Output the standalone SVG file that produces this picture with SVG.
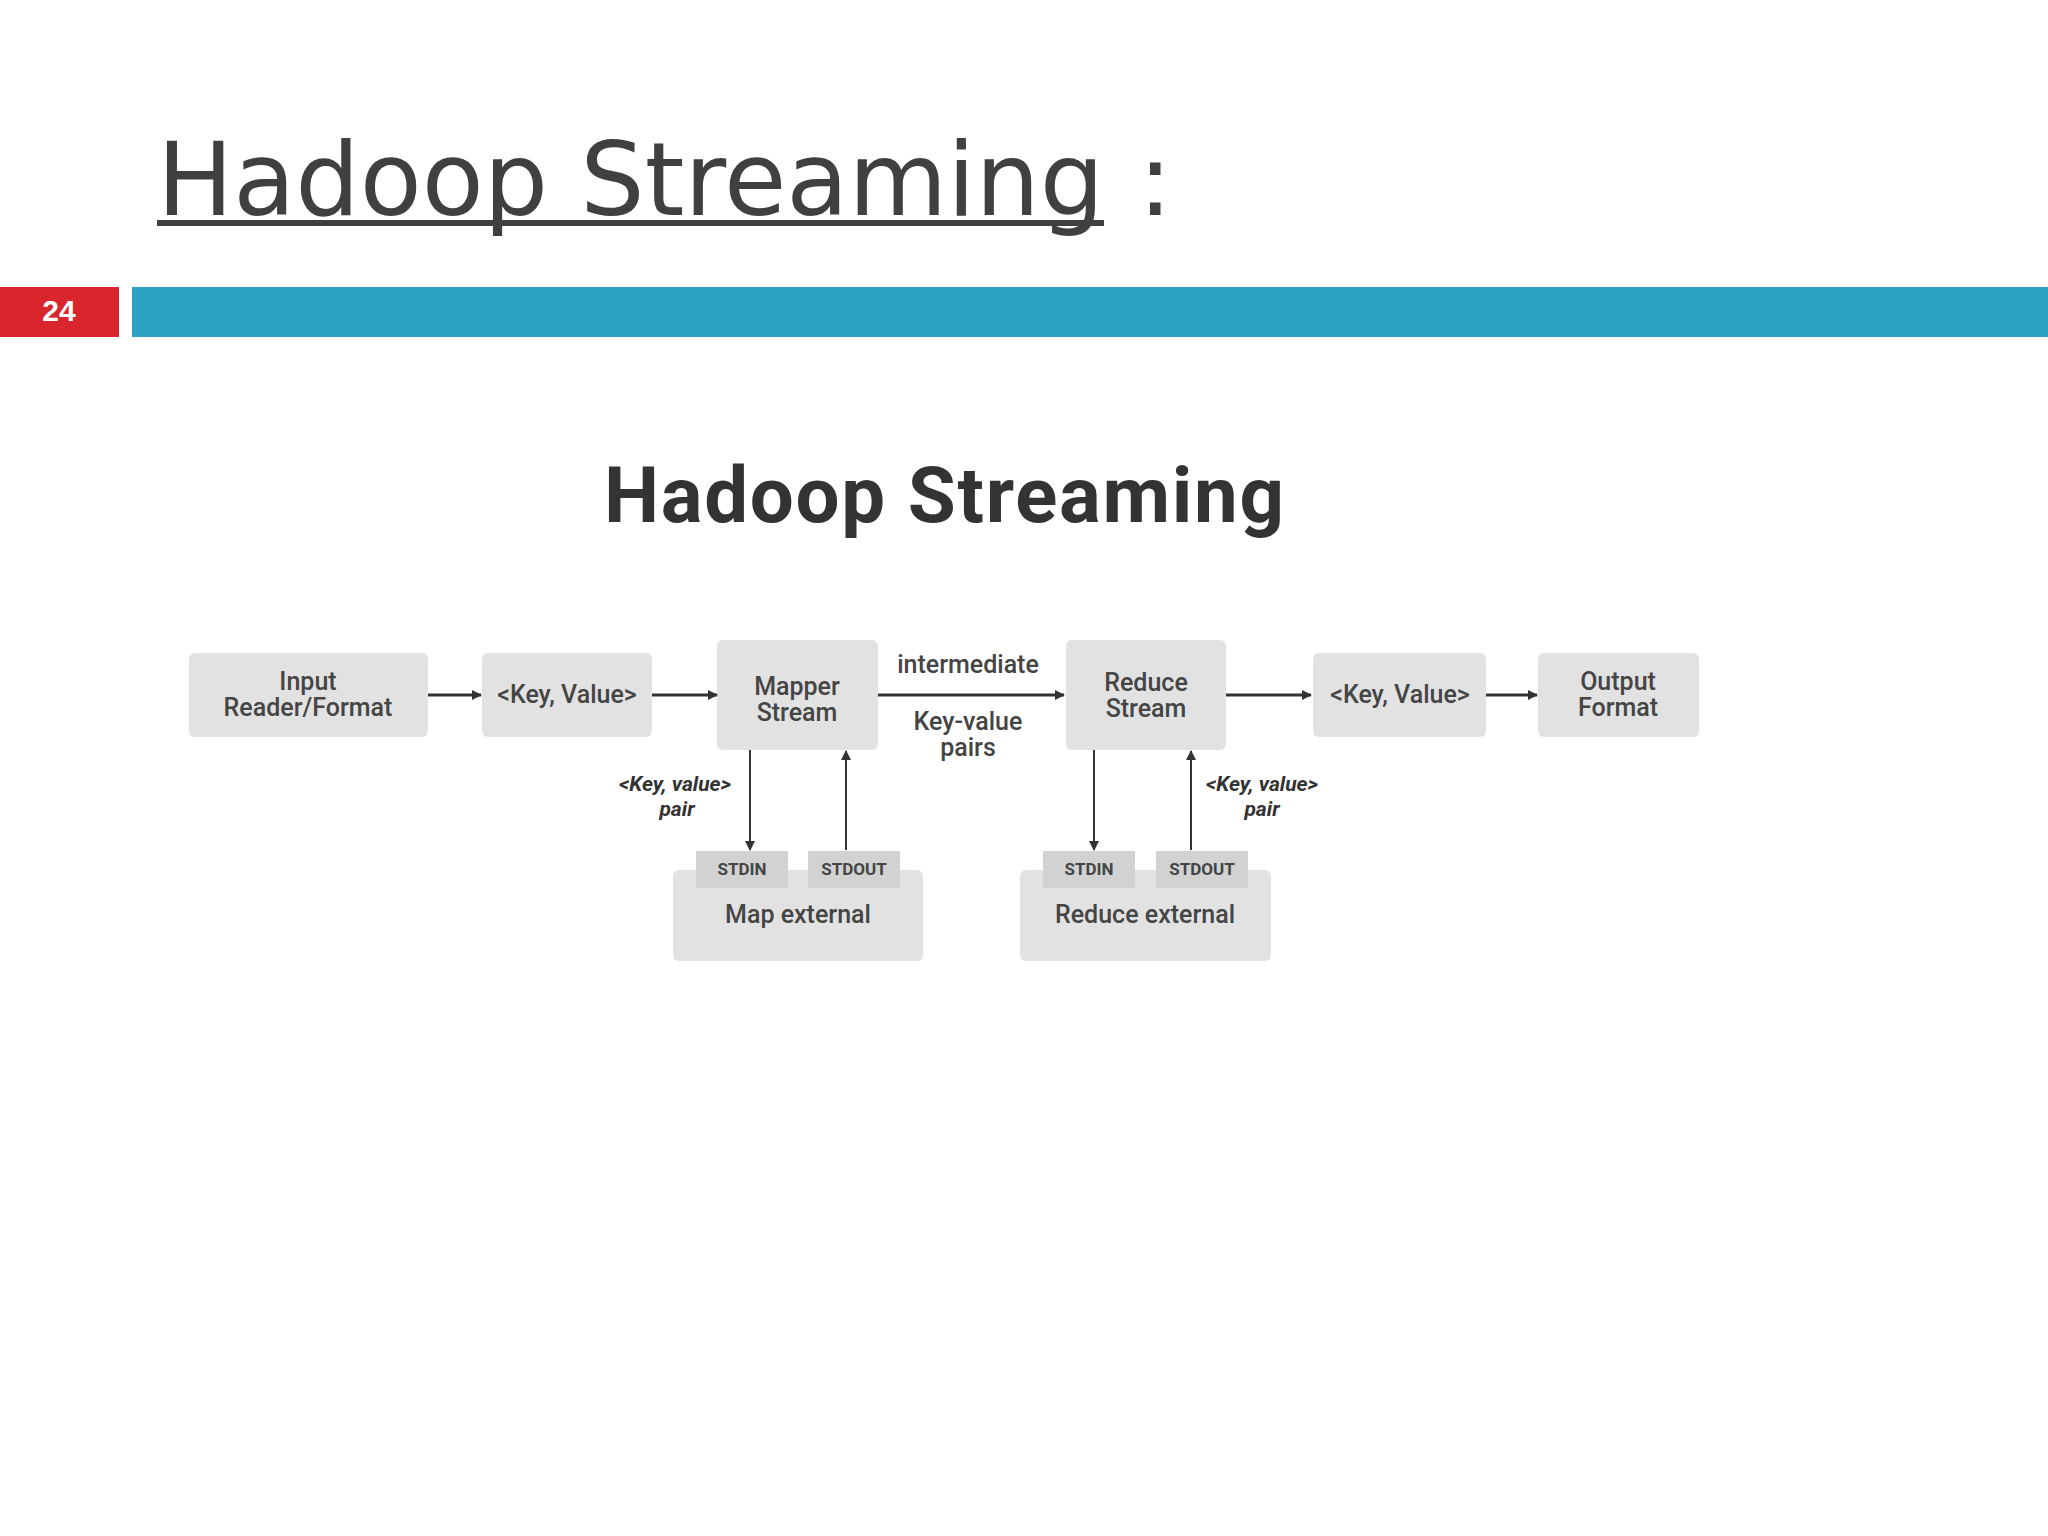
<svg xmlns="http://www.w3.org/2000/svg" width="2048" height="1536" viewBox="0 0 2048 1536">
<defs>
<marker id="ah" markerWidth="10" markerHeight="10" refX="9" refY="5" orient="auto" markerUnits="userSpaceOnUse"><path d="M0,0 L10,5 L0,10 z" fill="#333"/></marker>
<style>
.box{fill:#e2e2e2;rx:6}
.port{fill:#d2d2d2}
.t{font-family:Roboto,"Liberation Sans",sans-serif;font-size:25px;fill:#454545;text-anchor:middle;font-weight:500}
.s{font-family:Roboto,"Liberation Sans",sans-serif;font-size:17px;fill:#454545;text-anchor:middle;font-weight:bold}
.i{font-family:Roboto,"Liberation Sans",sans-serif;font-size:21px;fill:#333;text-anchor:middle;font-weight:bold;font-style:italic}
.c{stroke:#333;stroke-width:3;fill:none;marker-end:url(#ah)}
.v{stroke:#333;stroke-width:2;fill:none;marker-end:url(#ah)}
</style>
</defs>
<rect width="2048" height="1536" fill="#fff"/>
<text x="157" y="215" font-family="'DejaVu Sans',sans-serif" font-size="102" fill="#404040" textLength="947" lengthAdjust="spacingAndGlyphs">Hadoop Streaming</text>
<text x="1138" y="215" font-family="'DejaVu Sans',sans-serif" font-size="102" fill="#404040">:</text>
<rect x="157" y="220" width="947" height="6" fill="#404040"/>
<rect x="0" y="287" width="119" height="50" fill="#d9252c"/>
<text x="59" y="321" font-family="'Liberation Sans',sans-serif" font-size="30" font-weight="bold" fill="#fff" text-anchor="middle">24</text>
<rect x="132" y="287" width="1916" height="50" fill="#2ba2c1"/>
<text x="944" y="522" font-family="Roboto,'Liberation Sans',sans-serif" font-size="78" font-weight="bold" fill="#333" text-anchor="middle" textLength="680">Hadoop Streaming</text>
<g id="input"><rect class="box" x="189" y="653" width="239" height="84"/><text class="t" x="308" y="690">Input</text><text class="t" x="308" y="716">Reader/Format</text></g>
<g id="kv1"><rect class="box" x="482" y="653" width="170" height="84"/><text class="t" x="567" y="703">&lt;Key, Value&gt;</text></g>
<g id="mapper"><rect class="box" x="717" y="640" width="161" height="110"/><text class="t" x="797" y="695">Mapper</text><text class="t" x="797" y="721">Stream</text></g>
<g id="reduce"><rect class="box" x="1066" y="640" width="160" height="110"/><text class="t" x="1146" y="691">Reduce</text><text class="t" x="1146" y="717">Stream</text></g>
<g id="kv2"><rect class="box" x="1313" y="653" width="173" height="84"/><text class="t" x="1400" y="703">&lt;Key, Value&gt;</text></g>
<g id="output"><rect class="box" x="1538" y="653" width="161" height="84"/><text class="t" x="1618" y="690">Output</text><text class="t" x="1618" y="716">Format</text></g>
<g id="mapext"><rect class="box" x="673" y="870" width="250" height="91"/><text class="t" x="798" y="923">Map external</text>
<rect class="port" x="696" y="851" width="92" height="37"/><text class="s" x="742" y="875">STDIN</text>
<rect class="port" x="808" y="851" width="92" height="37"/><text class="s" x="854" y="875">STDOUT</text></g>
<g id="redext"><rect class="box" x="1020" y="870" width="251" height="91"/><text class="t" x="1145" y="923">Reduce external</text>
<rect class="port" x="1043" y="851" width="92" height="37"/><text class="s" x="1089" y="875">STDIN</text>
<rect class="port" x="1156" y="851" width="92" height="37"/><text class="s" x="1202" y="875">STDOUT</text></g>
<g id="connectors">
<line class="c" x1="428" y1="695" x2="481" y2="695"/>
<line class="c" x1="652" y1="695" x2="717" y2="695"/>
<line class="c" x1="878" y1="695" x2="1064" y2="695"/>
<line class="c" x1="1226" y1="695" x2="1311" y2="695"/>
<line class="c" x1="1486" y1="695" x2="1537" y2="695"/>
<line class="v" x1="750" y1="750" x2="750" y2="850"/>
<line class="v" x1="846" y1="850" x2="846" y2="751"/>
<line class="v" x1="1094" y1="750" x2="1094" y2="850"/>
<line class="v" x1="1191" y1="850" x2="1191" y2="751"/>
<text class="t" x="968" y="673">intermediate</text>
<text class="t" x="968" y="730">Key-value</text>
<text class="t" x="968" y="756">pairs</text>
<text class="i" x="675" y="791">&lt;Key, value&gt;</text><text class="i" x="677" y="816">pair</text>
<text class="i" x="1262" y="791">&lt;Key, value&gt;</text><text class="i" x="1262" y="816">pair</text>
</g>
</svg>
